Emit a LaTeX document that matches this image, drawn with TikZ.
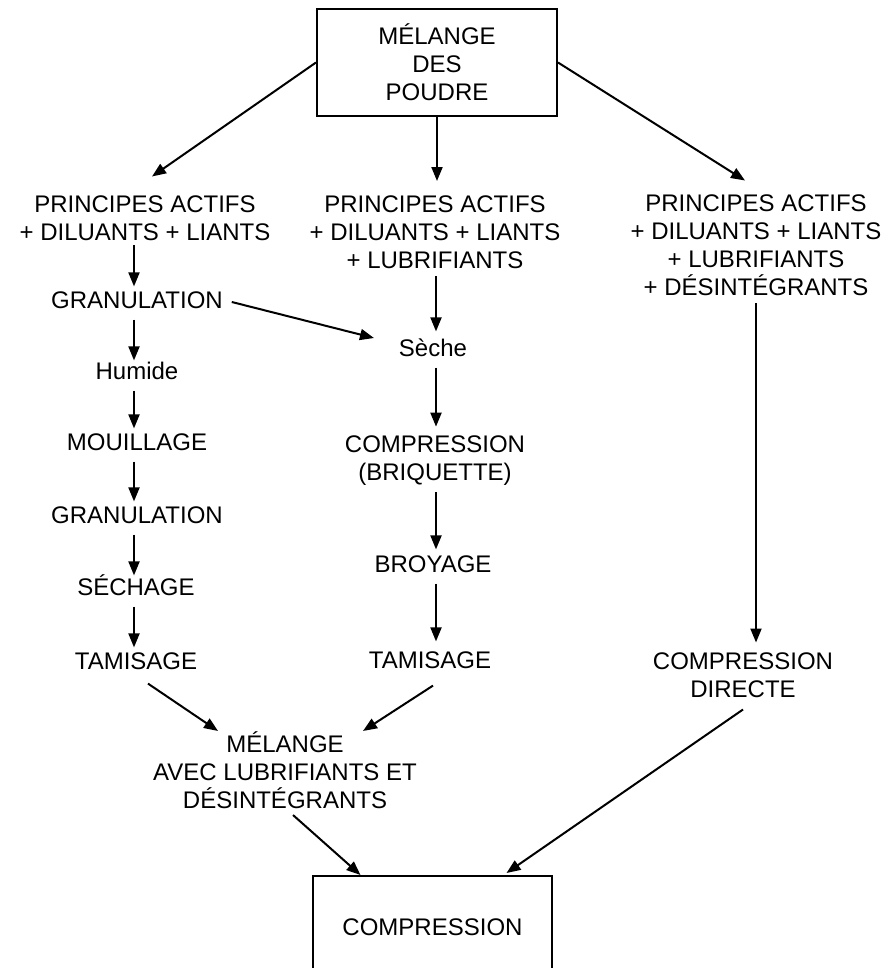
\documentclass[tikz,border=0pt]{standalone}
\usepackage{fontspec}
\setmainfont{Liberation Sans}
\usetikzlibrary{arrows.meta}

\begin{document}
\begin{tikzpicture}[x=1pt, y=-1pt, line width=2pt,
  font=\fontsize{24}{28}\selectfont,
  txt/.style={inner sep=0pt, text height=17.2pt, text depth=0pt},
  blk/.style={inner sep=0pt, align=center},
  arr/.style={-{Triangle[length=14pt,width=11pt]}},
  vflow/.style={arr, shorten <=10pt, shorten >=4pt}]
\clip (0,0) rectangle (886,968);

\node[draw, minimum width=240pt, minimum height=107pt, align=center] (mix) at (437,62.5) {MÉLANGE\\DES\\POUDRE};

\node[blk] (p1) at (145,218) {PRINCIPES ACTIFS\\+ DILUANTS + LIANTS};
\node[blk] (p2) at (435,232.5) {PRINCIPES ACTIFS\\+ DILUANTS + LIANTS\\+ LUBRIFIANTS};
\node[blk] (p3) at (756,245) {PRINCIPES ACTIFS\\+ DILUANTS + LIANTS\\+ LUBRIFIANTS\\+ DÉSINTÉGRANTS};

% voie humide
\node[txt] (g1) at (137,300) {GRANULATION};
\node[txt] (hu) at (137,371) {Humide};
\node[txt] (mo) at (137,442) {MOUILLAGE};
\node[txt] (g2) at (137,515) {GRANULATION};
\node[txt] (se) at (136,587) {SÉCHAGE};
\node[txt] (t1) at (136,661) {TAMISAGE};

% voie seche
\node[txt] (sc) at (433,348) {Sèche};
\node[blk] (cb) at (435,460.5) {COMPRESSION\\(BRIQUETTE)};
\node[txt] (br) at (433,564) {BROYAGE};
\node[txt] (t2) at (430,660) {TAMISAGE};

\node[blk] (cd) at (743,675) {COMPRESSION\\DIRECTE};
\node[blk] (mel) at (285,770.5) {MÉLANGE\\AVEC LUBRIFIANTS ET\\DÉSINTÉGRANTS};
\node[draw, txt, minimum width=239pt, minimum height=102pt] (comp) at (432.5,927) {COMPRESSION};

\draw[arr] (mix.west) -- ([xshift=7pt,yshift=18pt]p1.north);
\draw[arr, shorten >=14pt] (mix.south) -- (mix.south |- p2.north);
\draw[arr] (mix.east) -- ([xshift=-11pt,yshift=13pt]p3.north);

\coordinate (lc) at (134,0);
\draw[vflow, shorten <=4pt] (p1.south -| lc) -- (g1.north -| lc);
\draw[vflow, shorten >=1pt] (g1.south -| lc) -- (hu.north -| lc);
\draw[vflow] (hu.south -| lc) -- (mo.north -| lc);
\draw[vflow] (mo.south -| lc) -- (g2.north -| lc);
\draw[vflow, shorten >=2pt] (g2.south -| lc) -- (se.north -| lc);
\draw[vflow] (se.south -| lc) -- (t1.north -| lc);
\draw[arr] ([xshift=8pt,yshift=-2pt]g1.east) -- ([xshift=-24pt,yshift=10pt]sc.west);

\coordinate (mc) at (436,0);
\draw[vflow, shorten <=6pt, shorten >=7pt] (p2.south -| mc) -- (sc.north -| mc);
\draw[vflow, shorten >=8pt] (sc.south -| mc) -- (cb.north -| mc);
\draw[vflow, shorten <=6pt, shorten >=5pt] (cb.south -| mc) -- (br.north -| mc);
\draw[vflow, shorten >=9pt] (br.south -| mc) -- (t2.north -| mc);

\draw[vflow, shorten <=7pt, shorten >=9pt] (p3.south) -- (cd.north -| p3.south);

\draw[arr] ([xshift=12pt,yshift=-13pt]t1.south) -- ([xshift=-67pt]mel.north);
\draw[arr] ([xshift=3pt,yshift=-16pt]t2.south) -- ([xshift=78pt]mel.north);
\draw[arr] ([xshift=8pt,yshift=-5pt]mel.south) -- ([xshift=-72pt]comp.north);
\draw[arr] ([yshift=-11pt]cd.south) -- ([xshift=74pt,yshift=2pt]comp.north);
\end{tikzpicture}
\end{document}
